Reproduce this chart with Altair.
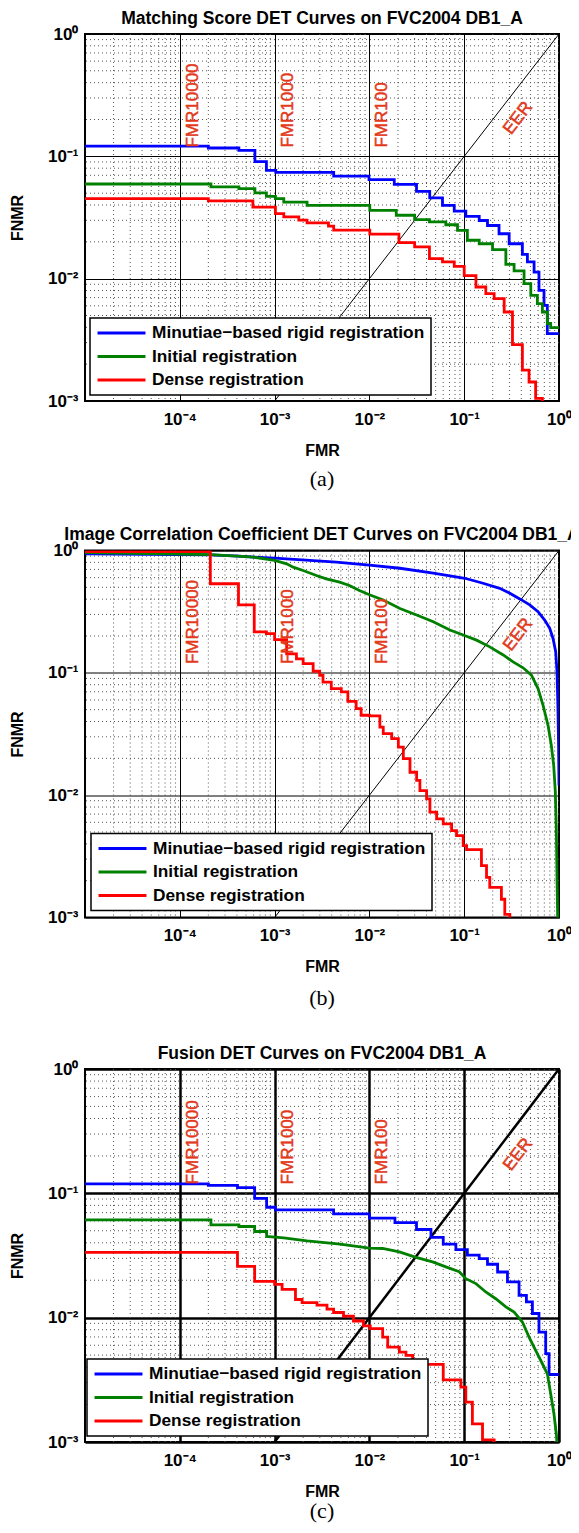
import json
import altair as alt
import pandas as pd

# ---------------- shared definitions ----------------
METHODS = ["Minutiae\u2212based rigid registration", "Initial registration", "Dense registration"]
COLORS = ["#0000ff", "#008000", "#ff0000"]

X_TICKS = [1e-4, 1e-3, 1e-2, 1e-1, 1.0]
X_TICK_LABELS = ["10\u207b\u2074", "10\u207b\u00b3", "10\u207b\u00b2", "10\u207b\u00b9", "10\u2070"]
Y_TICKS = [1e-3, 1e-2, 1e-1, 1.0]
Y_TICK_LABELS = ["10\u207b\u00b3", "10\u207b\u00b2", "10\u207b\u00b9", "10\u2070"]
X_MINOR = [m * 10.0 ** k for k in range(-5, 0) for m in range(2, 10)]
Y_MINOR = [m * 10.0 ** k for k in range(-3, 0) for m in range(2, 10)]

FMR_POS = [1e-4, 1e-3, 1e-2]
FMR_NAMES = ["FMR10000", "FMR1000", "FMR100"]
FMR_LABEL_Y = 0.118
EER_FMR = [0.37]
EER_FNMR = [0.205]
EER_NAME = ["EER"]
DIAG_FMR = [1e-3, 1.0]
DIAG_FNMR = [1e-3, 1.0]

TITLES = ["Matching Score DET Curves on FVC2004 DB1_A",
          "Image Correlation Coefficient DET Curves on FVC2004 DB1_A",
          "Fusion DET Curves on FVC2004 DB1_A"]
CAPTIONS = ["(a)", "(b)", "(c)"]

# ---------------- panel (a) ----------------
A_BLUE_FMR = [1e-5, 2.0e-4, 4.2e-4, 6.2e-4, 8.2e-4, 1.03e-3, 4.2e-3, 9.9e-3, 0.0183, 0.0314, 0.0433,
              0.059, 0.0785, 0.104, 0.144, 0.176, 0.233, 0.298, 0.411, 0.464, 0.546, 0.615, 0.695, 0.753, 1.0]
A_BLUE_FNMR = [0.121, 0.117, 0.112, 0.0905, 0.0768, 0.074, 0.069, 0.0645, 0.059, 0.0518, 0.0458,
               0.0397, 0.0357, 0.0323, 0.0299, 0.0272, 0.0233, 0.0193, 0.0158, 0.0137, 0.0113, 0.00803,
               0.00606, 0.00356, 0.00356]
A_GREEN_FMR = [1e-5, 2.13e-4, 4.2e-4, 6.2e-4, 8.2e-4, 1.02e-3, 1.25e-3, 2.2e-3, 1.01e-2, 1.92e-2, 3.0e-2,
               4.3e-2, 0.064, 0.085, 0.108, 0.144, 0.199, 0.275, 0.336, 0.428, 0.504, 0.591, 0.668, 0.754,
               0.817, 1.0]
A_GREEN_FNMR = [0.0594, 0.0562, 0.0545, 0.0502, 0.0471, 0.0451, 0.0423, 0.0398, 0.0362, 0.033, 0.0304,
                0.0291, 0.0276, 0.0248, 0.0206, 0.0193, 0.0173, 0.0131, 0.0116, 0.0091, 0.0073, 0.00625,
                0.00534, 0.0043, 0.00398, 0.00398]
A_RED_FMR = [1e-5, 2.0e-4, 5.9e-4, 1.02e-3, 1.25e-3, 1.8e-3, 2.2e-3, 3.7e-3, 4.2e-3, 1.01e-2, 2.05e-2,
             3.0e-2, 4.3e-2, 0.059, 0.0785, 0.1, 0.133, 0.169, 0.207, 0.264, 0.323, 0.411, 0.483, 0.567, 0.668]
A_RED_FNMR = [0.0451, 0.0433, 0.0385, 0.034, 0.032, 0.0301, 0.0286, 0.0269, 0.0249, 0.0231, 0.0197,
              0.0182, 0.0146, 0.0137, 0.0126, 0.0106, 0.00855, 0.00755, 0.00687, 0.00534, 0.00289, 0.00179,
              0.00143, 0.00105, 0.0005]

# ---------------- panel (b) ----------------
B_BLUE_FMR = [1e-5, 1e-4, 2.1e-4, 4.2e-4, 6.1e-4, 1e-3, 2.35e-3, 4.47e-3, 1e-2, 0.021, 0.0472, 0.1016,
              0.158, 0.237, 0.303, 0.386, 0.491, 0.601, 0.706, 0.798, 0.865, 0.923, 0.953, 0.975, 0.99, 1.0]
B_BLUE_FNMR = [0.94, 0.925, 0.92, 0.9, 0.883, 0.866, 0.829, 0.803, 0.758, 0.716, 0.652, 0.593, 0.54,
               0.491, 0.447, 0.402, 0.359, 0.316, 0.27, 0.231, 0.191, 0.149, 0.102, 0.05, 0.025, 0.012]
B_GREEN_FMR = [1e-5, 2.1e-4, 4.0e-4, 5.97e-4, 1e-3, 1.34e-3, 1.57e-3, 2.0e-3, 2.76e-3, 3.51e-3, 4.85e-3,
               6.16e-3, 7.85e-3, 1e-2, 0.014, 0.021, 0.0315, 0.0472, 0.0706, 0.0976, 0.135, 0.186, 0.258,
               0.328, 0.418, 0.512, 0.601, 0.679, 0.766, 0.83, 0.879, 0.915, 0.937, 0.953, 0.968, 0.98]
B_GREEN_FNMR = [0.96, 0.925, 0.9, 0.882, 0.829, 0.778, 0.731, 0.687, 0.625, 0.587, 0.551, 0.518, 0.471,
                0.435, 0.394, 0.336, 0.297, 0.262, 0.224, 0.204, 0.185, 0.163, 0.14, 0.123, 0.11, 0.0957,
                0.0744, 0.0543, 0.0372, 0.0255, 0.0175, 0.0106, 0.0053, 0.00206, 0.001, 0.0005]
B_RED_FMR = [1e-5, 2.1e-4, 4.16e-4, 6.1e-4, 8.2e-4, 1e-3, 1.34e-3, 1.70e-3, 2.0e-3, 2.55e-3, 2.99e-3,
             3.24e-3, 3.96e-3, 5.05e-3, 5.93e-3, 7.25e-3, 8.18e-3, 1e-2, 0.0129, 0.014, 0.0172, 0.0202,
             0.0228, 0.0268, 0.0315, 0.0341, 0.0401, 0.0435, 0.0512, 0.0601, 0.0736, 0.083, 0.0976, 0.106,
             0.152, 0.172, 0.186, 0.247, 0.268, 0.303]
B_RED_FNMR = [0.98, 0.535, 0.36, 0.216, 0.209, 0.187, 0.143, 0.130, 0.119, 0.103, 0.0955, 0.084, 0.0743,
              0.0698, 0.0585, 0.051, 0.045, 0.0445, 0.036, 0.0318, 0.029, 0.0247, 0.0199, 0.0154, 0.0132,
              0.0109, 0.00933, 0.00726, 0.0064, 0.00582, 0.00513, 0.00467, 0.00387, 0.00359, 0.00265,
              0.00213, 0.00176, 0.00141, 0.00106, 0.0005]

# ---------------- panel (c) ----------------
C_BLUE_FMR = [1e-5, 2.0e-4, 4.06e-4, 6.16e-4, 8.24e-4, 1.02e-3, 4.19e-3, 1e-2, 0.0186, 0.0314, 0.0446,
              0.0601, 0.0817, 0.108, 0.144, 0.176, 0.225, 0.286, 0.379, 0.453, 0.524, 0.615, 0.724, 0.785, 1.0]
C_BLUE_FNMR = [0.119, 0.116, 0.111, 0.0912, 0.0773, 0.0736, 0.0684, 0.0631, 0.0582, 0.0512, 0.0442, 0.039,
               0.0353, 0.0318, 0.0299, 0.0269, 0.0233, 0.0194, 0.0151, 0.0134, 0.0108, 0.00766, 0.00513,
               0.00349, 0.00349]
C_GREEN_FMR = [1e-5, 2.13e-4, 2.13e-4, 4.2e-4, 4.2e-4, 6.16e-4, 6.16e-4, 8.24e-4, 8.24e-4, 1.25e-3, 2.2e-3,
               4.9e-3, 1e-2, 0.0138, 0.0207, 0.031, 0.0464, 0.0641, 0.0886, 0.104, 0.133, 0.169, 0.215, 0.275,
               0.336, 0.411, 0.483, 0.567, 0.668, 0.754, 0.817, 0.885, 0.937, 0.97]
C_GREEN_FNMR = [0.0612, 0.0612, 0.0558, 0.0558, 0.0541, 0.0541, 0.0493, 0.0493, 0.045, 0.0438, 0.0415,
                0.039, 0.0362, 0.036, 0.0338, 0.0305, 0.0281, 0.0256, 0.0234, 0.0206, 0.0188, 0.0161, 0.0142,
                0.0122, 0.0111, 0.00923, 0.00698, 0.00545, 0.00426, 0.00353, 0.00244, 0.00168, 0.00116, 0.0008]
C_RED_FMR = [1e-5, 4.06e-4, 6.16e-4, 1e-3, 1.2e-3, 1.66e-3, 1.95e-3, 2.8e-3, 3.57e-3, 4.19e-3, 5.33e-3,
             6.79e-3, 8.65e-3, 1.02e-2, 0.0138, 0.0156, 0.0207, 0.0243, 0.0286, 0.0364, 0.0601, 0.0923, 0.104,
             0.122, 0.156, 0.207]
C_RED_FNMR = [0.0335, 0.0259, 0.0196, 0.0185, 0.0169, 0.014, 0.0132, 0.0126, 0.0117, 0.011, 0.0103, 0.0094,
              0.00858, 0.00815, 0.00698, 0.0058, 0.00528, 0.00497, 0.00453, 0.00421, 0.00316, 0.00276,
              0.00209, 0.0014, 0.00104, 0.0005]

# ---------------- styling ----------------
FONT = "Liberation Sans"
SERIF = "Liberation Serif"
ANNOT = "#e3391b"
PLOT_W = 474

X_LABEL_EXPR = json.dumps(X_TICK_LABELS, ensure_ascii=False) + "[round(log(datum.value)/LN10)+4]"
Y_LABEL_EXPR = json.dumps(Y_TICK_LABELS, ensure_ascii=False) + "[round(log(datum.value)/LN10)+3]"


def x_axis(gw):
    return alt.Axis(values=X_TICKS, labelExpr=X_LABEL_EXPR, title="FMR", grid=True, gridColor="black",
                    gridWidth=gw, gridOpacity=1, ticks=False, domain=False, labelFont=FONT,
                    labelFontSize=17, labelFontWeight="bold", labelColor="black", labelPadding=10,
                    labelFlush=False, labelOverlap=False, titleFont=FONT, titleFontSize=16,
                    titleFontWeight="bold", titleColor="black", titlePadding=15)


def y_axis(gw):
    return alt.Axis(values=Y_TICKS, labelExpr=Y_LABEL_EXPR, title="FNMR", grid=True, gridColor="black",
                    gridWidth=gw, gridOpacity=1, ticks=False, domain=False, labelFont=FONT,
                    labelFontSize=17, labelFontWeight="bold", labelColor="black", labelPadding=7,
                    labelFlush=False, labelOverlap=False, titleFont=FONT, titleFontSize=16,
                    titleFontWeight="bold", titleColor="black", titlePadding=22)


XS = alt.Scale(type="log", domain=[1e-5, 1.0], nice=False)
YS = alt.Scale(type="log", domain=[1e-3, 1.0], nice=False)


def panel(idx, curves, gw, height, legend_x, legend_y, cap_gap):
    xa, ya = x_axis(gw), y_axis(gw)
    X = lambda: alt.X("fmr:Q", scale=XS, axis=xa)
    Y = lambda: alt.Y("fnmr:Q", scale=YS, axis=ya)
    legend = alt.Legend(title=None, orient="none", legendX=legend_x, legendY=legend_y,
                        fillColor="white", strokeColor="black", padding=6, symbolType="stroke",
                        symbolSize=2300, symbolStrokeWidth=3, labelFont=FONT, labelFontSize=17.3,
                        labelFontWeight="bold", labelColor="black", labelLimit=500, labelOffset=5,
                        rowPadding=5.5, clipHeight=18)
    color = alt.Color("method:N", scale=alt.Scale(domain=METHODS, range=COLORS), legend=legend)

    minor_x = alt.Chart(pd.DataFrame({"fmr": X_MINOR})).mark_rule(
        color="#555", strokeDash=[1, 3], strokeWidth=1).encode(x=X())
    minor_y = alt.Chart(pd.DataFrame({"fnmr": Y_MINOR})).mark_rule(
        color="#555", strokeDash=[1, 3], strokeWidth=1).encode(y=Y())
    diag = alt.Chart(pd.DataFrame({"fmr": DIAG_FMR, "fnmr": DIAG_FNMR})).mark_line(
        color="black", strokeWidth=gw, clip=True).encode(x=X(), y=Y())

    layers = [minor_x, minor_y, diag]
    for xs, ys, method, interp in curves:
        df = pd.DataFrame({"fmr": xs, "fnmr": ys, "method": method, "i": list(range(len(xs)))})
        layers.append(alt.Chart(df).mark_line(interpolate=interp, clip=True, strokeWidth=2.8).encode(
            x=X(), y=Y(), color=color, order="i:Q"))

    fmr_df = pd.DataFrame({"fmr": FMR_POS, "fnmr": [FMR_LABEL_Y] * 3, "label": FMR_NAMES})
    layers.append(alt.Chart(fmr_df).mark_text(angle=270, align="left", baseline="top", dy=5,
                                               font=FONT, fontSize=17, color=ANNOT, stroke=ANNOT,
                                               strokeWidth=0.5).encode(
        x=X(), y=Y(), text="label:N"))
    eer_df = pd.DataFrame({"fmr": EER_FMR, "fnmr": EER_FNMR, "label": EER_NAME})
    layers.append(alt.Chart(eer_df).mark_text(angle=308, align="center", baseline="middle",
                                               font=FONT, fontSize=17.5, color=ANNOT, stroke=ANNOT,
                                               strokeWidth=0.5).encode(
        x=X(), y=Y(), text="label:N"))
    cap_df = pd.DataFrame({"cap": [CAPTIONS[idx]]})
    layers.append(alt.Chart(cap_df).mark_text(font=SERIF, fontSize=22, color="black",
                                               baseline="middle", align="center").encode(
        text="cap:N", x=alt.value(PLOT_W / 2), y=alt.value(height + cap_gap)))

    return alt.layer(*layers).properties(
        width=PLOT_W, height=height,
        title=alt.TitleParams(TITLES[idx], font=FONT, fontSize=17.5, fontWeight="bold", color="black",
                              anchor="middle", frame="group", offset=-2))


pa = panel(0, [(A_BLUE_FMR, A_BLUE_FNMR, METHODS[0], "step-after"),
               (A_GREEN_FMR, A_GREEN_FNMR, METHODS[1], "step-after"),
               (A_RED_FMR, A_RED_FNMR, METHODS[2], "step-after")], 1, 367, 5, 284, 77.5)
pb = panel(1, [(B_BLUE_FMR, B_BLUE_FNMR, METHODS[0], "linear"),
               (B_GREEN_FMR, B_GREEN_FNMR, METHODS[1], "linear"),
               (B_RED_FMR, B_RED_FNMR, METHODS[2], "step-after")], 1, 367, 6, 283, 80)
pc = panel(2, [(C_BLUE_FMR, C_BLUE_FNMR, METHODS[0], "step-after"),
               (C_GREEN_FMR, C_GREEN_FNMR, METHODS[1], "linear"),
               (C_RED_FMR, C_RED_FNMR, METHODS[2], "step-after")], 2.5, 373, 2, 290, 69)

chart = alt.vconcat(pa, pb, pc, spacing=33.5).resolve_scale(
    color="independent", x="independent", y="independent"
).configure_view(stroke="black", strokeWidth=2).configure_legend(strokeWidth=1.5).properties(
    padding={"left": 0, "top": 0, "right": -10, "bottom": 0}, background="white")

chart.save("out.html", embed_options={"renderer": "svg", "actions": False})
